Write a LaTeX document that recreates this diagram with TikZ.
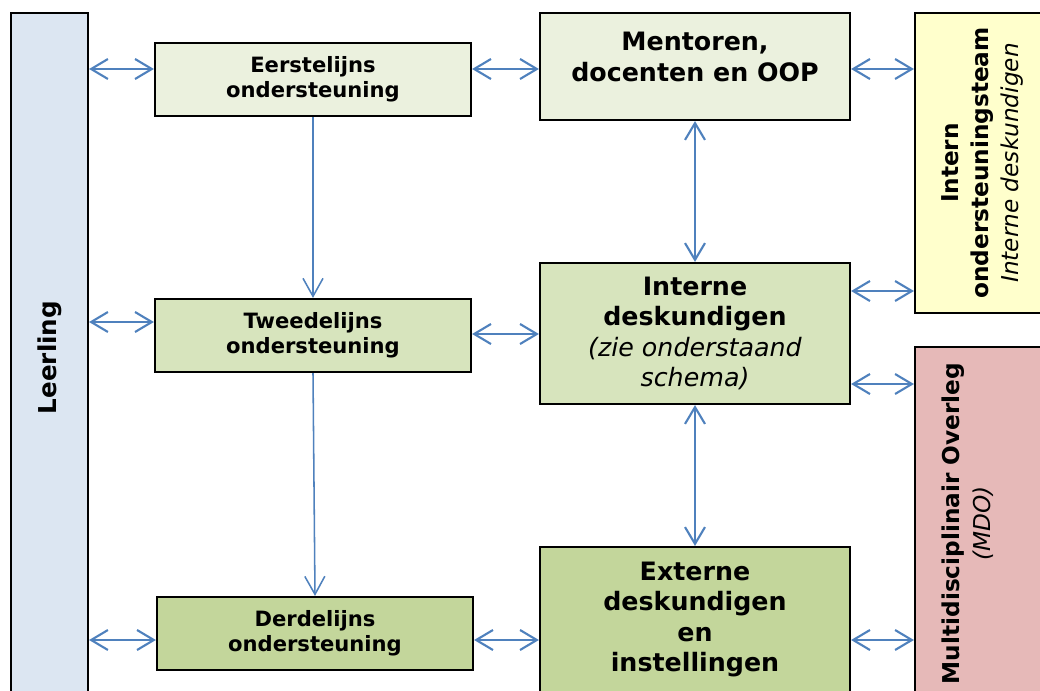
\documentclass[tikz,border=0pt]{standalone}
\usepackage{fontspec}
\setmainfont{DejaVu Sans}
\usetikzlibrary{arrows.meta}
\definecolor{linkblue}{RGB}{79, 129, 189}
\definecolor{pupilblue}{RGB}{220, 230, 242}
\definecolor{firstgreen}{RGB}{235, 241, 222}
\definecolor{secondgreen}{RGB}{215, 228, 189}
\definecolor{thirdgreen}{RGB}{195, 214, 155}
\definecolor{teamyellow}{RGB}{255, 255, 204}
\definecolor{mdored}{RGB}{230, 185, 184}

\begin{document}
\begin{tikzpicture}[x=0.025cm, y=-0.025cm,
  box/.style={draw, line width=1.5pt, inner sep=0pt, align=center},
  linebox/.style={box, minimum width=7.9cm, minimum height=1.825cm, font=\fontsize{15}{17.5}\selectfont\bfseries},
  bigbox/.style={box, minimum width=7.75cm, font=\fontsize{18}{21.5}\selectfont\bfseries},
  sidebox/.style={box, minimum width=3.375cm, font=\fontsize{16.5}{21.5}\selectfont\bfseries},
  link/.style={draw=linkblue, line width=1.5pt, >={Straight Barb[length=0.42cm,width=0.5cm]}, <->},
  flow/.style={draw=linkblue, line width=1.1pt, >={Straight Barb[length=0.45cm,width=0.5cm]}, ->}
]
  \clip (0,0) rectangle (1040,691);

  % Leerling
  \node[box, fill=pupilblue, minimum width=1.925cm, minimum height=17.225cm] (leerling) at (49.5,357.5)
    {\rotatebox{90}{\fontsize{17.5}{21}\selectfont\bfseries Leerling}};

  % Lines of support
  \node[linebox, fill=firstgreen] (eerste) at (313,79.5) {Eerstelijns\\ondersteuning};
  \node[linebox, fill=secondgreen] (tweede) at (313,335.5) {Tweedelijns\\ondersteuning};
  \node[linebox, fill=thirdgreen] (derde) at (315,633.5) {Derdelijns\\ondersteuning};

  % Who gives it
  \node[bigbox, fill=firstgreen, minimum height=2.675cm] (mentor) at (695,66.5) {};
  \node[font=\fontsize{18}{21.5}\selectfont\bfseries, align=center] (mentortext) at (695,57) {Mentoren,\\docenten en OOP};
  \node[bigbox, fill=secondgreen, minimum height=3.525cm] (intdesk) at (695,333.5)
    {Interne\\deskundigen\\{\mdseries\itshape (zie onderstaand}\\{\mdseries\itshape schema)}};
  \node[bigbox, fill=thirdgreen, minimum height=3.625cm] (extern) at (695,619.5)
    {Externe\\deskundigen\\en\\instellingen};

  % Teams on the right
  \node[sidebox, fill=teamyellow, minimum height=7.5cm] (team) at (982.5,163)
    {\rotatebox{90}{\begin{tabular}{@{}c@{}}Intern\\ondersteuningsteam\\\mdseries\itshape Interne deskundigen\end{tabular}}};
  \node[sidebox, fill=mdored, minimum height=8.825cm] (mdo) at (982.5,523.5) {};
  \node[font=\fontsize{16.5}{21.5}\selectfont\bfseries] (mdotext) at (969,523.5)
    {\rotatebox{90}{\begin{tabular}{@{}c@{}}Multidisciplinair Overleg\\\mdseries\itshape (MDO)\end{tabular}}};

  % Rows of the links
  \coordinate (rowA) at (0,69);
  \coordinate (rowB) at (0,291);
  \coordinate (rowC) at (0,322);
  \coordinate (rowD) at (0,334);
  \coordinate (rowE) at (0,384);
  \coordinate (rowF) at (0,640);

  \draw[link] (leerling.east |- rowA) -- (eerste.west |- rowA);
  \draw[link] (eerste.east |- rowA) -- (mentor.west |- rowA);
  \draw[link] (mentor.east |- rowA) -- (team.west |- rowA);
  \draw[link] (leerling.east |- rowC) -- (tweede.west |- rowC);
  \draw[link] (tweede.east |- rowD) -- (intdesk.west |- rowD);
  \draw[link] (intdesk.east |- rowB) -- (team.west |- rowB);
  \draw[link] (intdesk.east |- rowE) -- (mdo.west |- rowE);
  \draw[link] (leerling.east |- rowF) -- (derde.west |- rowF);
  \draw[link] (derde.east |- rowF) -- (extern.west |- rowF);
  \draw[link] (extern.east |- rowF) -- (mdo.west |- rowF);

  \draw[flow] (eerste.south) -- (tweede.north);
  \draw[flow] (tweede.south) -- (derde.north);
  \draw[link] (mentor.south) -- (intdesk.north);
  \draw[link] (intdesk.south) -- (extern.north);
\end{tikzpicture}
\end{document}
